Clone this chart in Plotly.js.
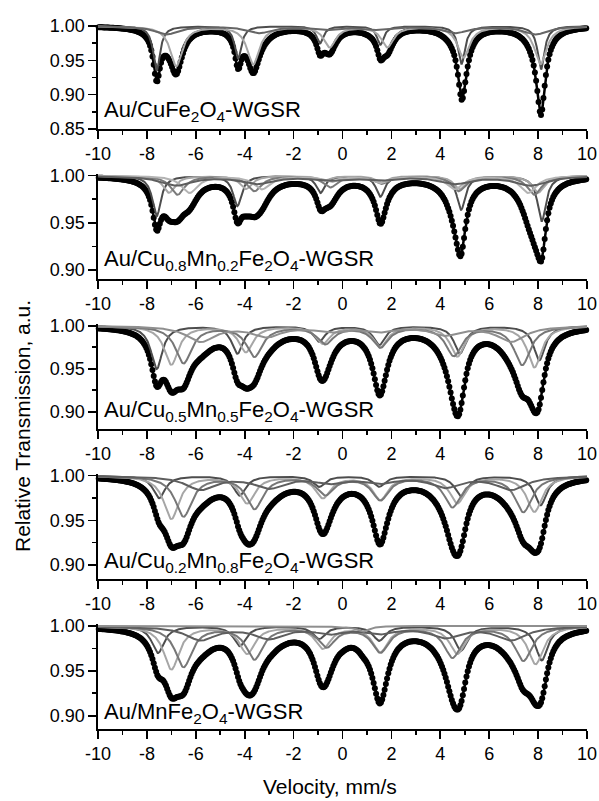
<!DOCTYPE html>
<html><head><meta charset="utf-8">
<script src="https://cdn.plot.ly/plotly-3.0.1.min.js"></script>
<style>html,body{margin:0;padding:0;background:#fff}#chart{width:599px;height:801px}</style>
</head><body><div id="chart"></div>
<script>
// ---------- data ----------
const panelLabels = [
  'Au/CuFe<sub>2</sub>O<sub>4</sub>-WGSR',
  'Au/Cu<sub>0.8</sub>Mn<sub>0.2</sub>Fe<sub>2</sub>O<sub>4</sub>-WGSR',
  'Au/Cu<sub>0.5</sub>Mn<sub>0.5</sub>Fe<sub>2</sub>O<sub>4</sub>-WGSR',
  'Au/Cu<sub>0.2</sub>Mn<sub>0.8</sub>Fe<sub>2</sub>O<sub>4</sub>-WGSR',
  'Au/MnFe<sub>2</sub>O<sub>4</sub>-WGSR'
];
const yLow = [0.85, 0.8904, 0.8799, 0.8843, 0.8852];
const yHigh = 1.002;
const xTickVals = [-10,-8,-6,-4,-2,0,2,4,6,8,10];
const xTickText = ['-10','-8','-6','-4','-2','0','2','4','6','8','10'];
const xMinorVals = [-9,-7,-5,-3,-1,1,3,5,7,9];
const yTickVals = [[0.85,0.90,0.95,1.00],[0.90,0.95,1.00],[0.90,0.95,1.00],[0.90,0.95,1.00],[0.90,0.95,1.00]];
const yTickText = [['0.85','0.90','0.95','1.00'],['0.90','0.95','1.00'],['0.90','0.95','1.00'],['0.90','0.95','1.00'],['0.90','0.95','1.00']];
const yMinorVals = [0.875,0.925,0.975];

// sub-spectra: line positions (mm/s), line depths, half widths (mm/s)
const p1Pos = [[-7.6,-4.27,-0.92,1.55,4.87,8.12],[-6.8,-3.65,-0.52,1.84,4.95,8.1],[-7.2,-3.4,-0.7,1.3,4.6,7.9]];
const p1Depth = [[0.065,0.047,0.025,0.027,0.055,0.063],[0.058,0.055,0.03,0.03,0.045,0.055],[0.012,0.01,0.005,0.005,0.01,0.012]];
const p1Hw = [0.17,0.3,0.6];

const p2Pos = [[-7.6,-4.3,-0.9,1.55,4.85,8.15],[-7.1,-3.95,-0.75,1.6,4.8,8.0],[-6.75,-3.6,-0.5,1.6,4.75,7.85],[-6.25,-3.3,-0.45,1.55,4.6,7.6],[-6.8,-3.5,-0.6,1.5,4.6,7.7]];
const p2Depth = [[0.043,0.032,0.018,0.022,0.036,0.048],[0.018,0.014,0.005,0.007,0.014,0.018],[0.02,0.016,0.012,0.008,0.016,0.02],[0.018,0.014,0.006,0.007,0.014,0.018],[0.01,0.008,0.004,0.004,0.008,0.01]];
const p2Hw = [0.21,0.3,0.35,0.4,0.8];

const p3Pos = [[-7.6,-4.3,-0.95,1.5,4.8,8.05],[-7.0,-3.95,-0.8,1.55,4.7,7.85],[-6.5,-3.6,-0.7,1.55,4.55,7.35],[-5.8,-3.1,-0.5,1.5,4.2,6.9]];
const p3Depth = [[0.05,0.032,0.018,0.022,0.032,0.04],[0.045,0.03,0.02,0.024,0.035,0.048],[0.043,0.035,0.02,0.024,0.034,0.045],[0.018,0.012,0.006,0.006,0.01,0.018]];
const p3Hw = [0.28,0.35,0.4,0.7];

const p4Pos = [[-7.5,-4.2,-0.95,1.5,4.85,8.1],[-7.0,-3.9,-0.8,1.55,4.7,7.85],[-6.5,-3.6,-0.7,1.55,4.5,7.4],[-5.8,-3.0,-0.5,1.5,4.2,6.9]];
const p4Depth = [[0.025,0.022,0.012,0.012,0.023,0.033],[0.048,0.03,0.024,0.026,0.03,0.04],[0.045,0.036,0.02,0.026,0.034,0.04],[0.015,0.013,0.007,0.007,0.012,0.015]];
const p4Hw = [0.3,0.38,0.42,0.75];

const p5Pos = [[-7.55,-4.2,-0.95,1.5,4.85,8.15],[-7.0,-3.9,-0.8,1.55,4.7,7.9],[-6.5,-3.6,-0.65,1.55,4.5,7.4],[-5.8,-3.0,-0.5,1.5,4.2,6.9],[0.05,0.85]];
const p5Depth = [[0.03,0.022,0.014,0.016,0.027,0.038],[0.048,0.03,0.024,0.028,0.03,0.042],[0.045,0.036,0.022,0.028,0.034,0.038],[0.015,0.013,0.007,0.007,0.012,0.015],[0.002,0.006]];
const p5Hw = [0.3,0.38,0.42,0.75,0.3];

const compColors = [
  ['#4d4d4d','#a6a6a6','#666666'],
  ['#4d4d4d','#a6a6a6','#7a7a7a','#b3b3b3','#5e5e5e'],
  ['#4d4d4d','#a6a6a6','#777777','#8f8f8f'],
  ['#4d4d4d','#a6a6a6','#777777','#5e5e5e'],
  ['#4d4d4d','#a6a6a6','#777777','#5e5e5e','#8f8f8f']
];

// ---------- build ----------
const panels = [
  {pos:p1Pos, depth:p1Depth, hw:p1Hw},
  {pos:p2Pos, depth:p2Depth, hw:p2Hw},
  {pos:p3Pos, depth:p3Depth, hw:p3Hw},
  {pos:p4Pos, depth:p4Depth, hw:p4Hw},
  {pos:p5Pos, depth:p5Depth, hw:p5Hw}
];
const xLine = []; for (let i=0;i<=1000;i++) xLine.push(-10+i*0.02);
const xDots = []; for (let i=0;i<=399;i++) xDots.push(-9.97+i*0.04997);

function absorb(pos, depth, hw, x){
  let s=0;
  for (let k=0;k<pos.length;k++){ const d=x-pos[k]; s+=depth[k]*hw*hw/(d*d+hw*hw); }
  return s;
}
function total(p,x){ let s=0; for(let c=0;c<p.pos.length;c++) s+=absorb(p.pos[c],p.depth[c],p.hw[c],x); return 1-s; }

const domPx = [[24.6,129],[173.8,279],[324,429],[473.9,579],[624.2,729]];
const labelPx = [111,260,411,562,713];
const H=801;
const FONT='Liberation Sans, Arial, sans-serif';
const traces=[]; const layout={
  width:599,height:801,margin:{l:98,r:12,t:0,b:0},
  paper_bgcolor:'#fff',plot_bgcolor:'#fff',showlegend:false,
  font:{family:FONT,color:'#000',size:18},
  annotations:[]
};
panels.forEach((p,i)=>{
  const xa = i===0?'x':'x'+(i+1), ya = i===0?'y':'y'+(i+1);
  traces.push({x:xDots,y:xDots.map(x=>total(p,x)),xaxis:xa,yaxis:ya,mode:'markers',
    marker:{color:'#000',size:6},cliponaxis:false,hoverinfo:'skip'});
  traces.push({x:xLine,y:xLine.map(x=>total(p,x)),xaxis:xa,yaxis:ya,mode:'lines',
    line:{color:'#000',width:2.5},hoverinfo:'skip'});
  for(let c=0;c<p.pos.length;c++){
    traces.push({x:xLine,y:xLine.map(x=>1-absorb(p.pos[c],p.depth[c],p.hw[c],x)),xaxis:xa,yaxis:ya,mode:'lines',
      line:{color:compColors[i][c],width:2},hoverinfo:'skip'});
  }
  const sfx = i===0?'':(i+1);
  layout['xaxis'+sfx]={domain:[0,1],anchor:ya,range:[-10,10],showline:true,linecolor:'#000',linewidth:1.6,
    ticks:'outside',ticklen:8,tickwidth:1.6,tickcolor:'#000',tickmode:'array',tickvals:xTickVals,ticktext:xTickText,
    minor:{tickmode:'array',tickvals:xMinorVals,ticks:'outside',ticklen:4,tickwidth:1.6,tickcolor:'#000'},
    showgrid:false,zeroline:false,tickfont:{family:FONT,size:18,color:'#000'}};
  layout['yaxis'+sfx]={domain:[1-domPx[i][1]/H,1-domPx[i][0]/H],anchor:xa,range:[yLow[i],yHigh],showline:true,linecolor:'#000',linewidth:1.6,
    ticks:'outside',ticklen:8,tickwidth:1.6,tickcolor:'#000',tickmode:'array',tickvals:yTickVals[i],ticktext:yTickText[i],
    minor:{tickmode:'array',tickvals:yMinorVals,ticks:'outside',ticklen:4,tickwidth:1.6,tickcolor:'#000'},
    showgrid:false,zeroline:false,tickfont:{family:FONT,size:18,color:'#000'}};
  layout.annotations.push({text:panelLabels[i],xref:xa,x:-9.85,xanchor:'left',yref:'paper',y:1-labelPx[i]/H,yanchor:'middle',
    showarrow:false,font:{family:FONT,size:22,color:'#000'}});
});
layout.annotations.push({text:'Relative Transmission, a.u.',xref:'paper',yref:'paper',x:(22-98)/489,y:1-426/H,
  textangle:-90,showarrow:false,xanchor:'center',yanchor:'middle',font:{family:FONT,size:21,color:'#000'}});
layout.annotations.push({text:'Velocity, mm/s',xref:'paper',yref:'paper',x:(330-98)/489,y:1-786/H,
  showarrow:false,xanchor:'center',yanchor:'middle',font:{family:FONT,size:21,color:'#000'}});
Plotly.newPlot('chart',traces,layout,{staticPlot:true,displayModeBar:false});
</script></body></html>
